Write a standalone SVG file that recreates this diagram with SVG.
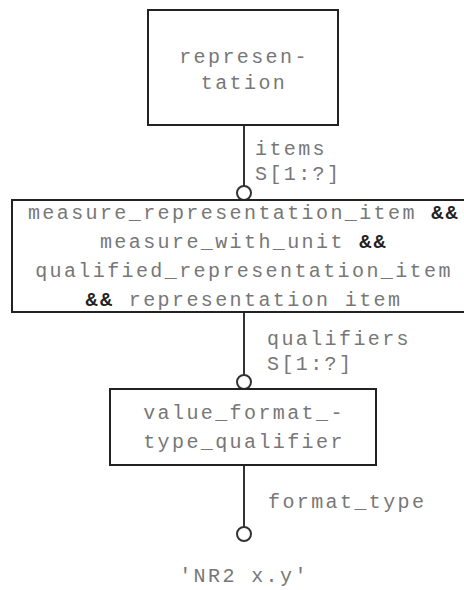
<svg xmlns="http://www.w3.org/2000/svg" width="464" height="590" viewBox="0 0 464 590">
<style>
.box{fill:#fff;stroke:#222;stroke-width:2}
.t{font-family:"Liberation Mono","Courier New",monospace;font-size:20px;letter-spacing:2.4px;fill:#777}
.tc{text-anchor:middle}
.b{font-weight:bold;fill:#222}
.ln{stroke:#333;stroke-width:2;fill:none}
.c{fill:#fff;stroke:#333;stroke-width:2}
</style>
<rect width="464" height="590" fill="#fff"/>
<g id="connectors">
<line class="ln" x1="244" y1="125" x2="244" y2="186"/>
<circle class="c" cx="244" cy="193" r="7"/>
<text class="t" x="255" y="155">items</text>
<text class="t" x="255" y="180">S[1:?]</text>
<line class="ln" x1="244" y1="312" x2="244" y2="375"/>
<circle class="c" cx="244" cy="382" r="7"/>
<text class="t" x="267" y="345">qualifiers</text>
<text class="t" x="267" y="370">S[1:?]</text>
<line class="ln" x1="244" y1="465" x2="244" y2="527"/>
<circle class="c" cx="244" cy="534" r="7"/>
<text class="t" x="268" y="508">format_type</text>
</g>
<g id="representation">
<rect class="box" x="148" y="10" width="190" height="115"/>
<text class="t tc" x="244" y="63">represen-</text>
<text class="t tc" x="244" y="89">tation</text>
</g>
<g id="measure_item">
<rect class="box" x="12" y="200" width="460" height="112"/>
<text class="t tc" x="244" y="219">measure_representation_item <tspan class="b">&amp;&amp;</tspan></text>
<text class="t tc" x="244" y="248">measure_with_unit <tspan class="b">&amp;&amp;</tspan></text>
<text class="t tc" x="244" y="277">qualified_representation_item</text>
<text class="t tc" x="244" y="306"><tspan class="b">&amp;&amp;</tspan> representation item</text>
</g>
<g id="value_format_type_qualifier">
<rect class="box" x="110" y="389" width="266" height="76"/>
<text class="t tc" x="244" y="419">value_format_-</text>
<text class="t tc" x="244" y="448">type_qualifier</text>
</g>
<g id="nr2">
<text class="t tc" x="244" y="582">'NR2 x.y'</text>
</g>
</svg>
